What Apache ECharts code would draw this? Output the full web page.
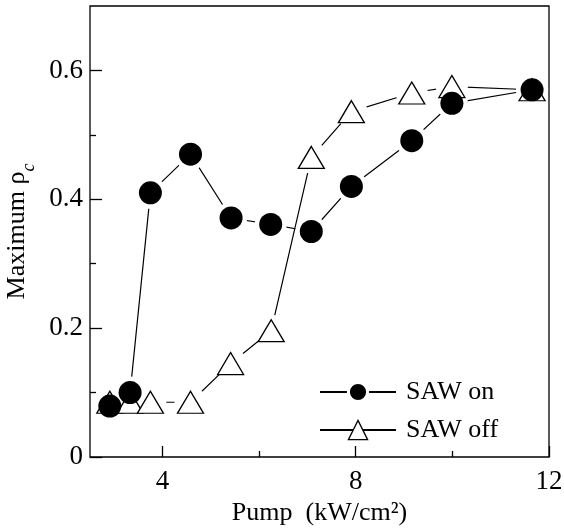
<!DOCTYPE html>
<html>
<head>
<meta charset="UTF-8">
<title>Maximum rho_c vs pump</title>
<script src="https://cdn.jsdelivr.net/npm/echarts@6/dist/echarts.min.js"></script>
<style>
    html, body { margin: 0; padding: 0; background: #fff; }
    #main { width: 564px; height: 529px; }
</style>
</head>
<body>
<div id="main"></div>
<script>
    // pump power (kW/cm2) and maximum rho_c
    var pumpOn = [2.91, 3.33, 3.75, 4.58, 5.42, 6.24, 7.08, 7.91, 9.16, 9.99, 11.65];
    var rhoOn = [0.079, 0.100, 0.410, 0.470, 0.371, 0.361, 0.350, 0.420, 0.491, 0.549, 0.570];
    var pumpOff = [2.91, 3.33, 3.75, 4.58, 5.41, 6.25, 7.08, 7.91, 9.16, 9.99, 11.65];
    var rhoOff = [0.085, 0.085, 0.085, 0.085, 0.145, 0.196, 0.465, 0.536, 0.565, 0.575, 0.570];

    var xTicks = [4, 8, 12];
    var xMinor = [6, 10];
    var yTicks = [0, 0.2, 0.4, 0.6];
    var yMinor = [0.1, 0.3, 0.5];

    var serif = 'Liberation Serif';

    function pairs(xs, ys) {
        return xs.map(function (x, i) { return [x, ys[i]]; });
    }
    var onData = pairs(pumpOn, rhoOn);
    var offData = pairs(pumpOff, rhoOff);

    var chart = echarts.init(document.getElementById('main'));
    var option = {
        animation: false,
        grid: {
            left: 90, right: 15, top: 6, bottom: 72,
            outerBoundsMode: 'none',
            show: true, borderColor: '#000', borderWidth: 1.3,
            backgroundColor: 'transparent'
        },
        legend: {
            data: [
                {name: 'SAW on', itemStyle: {color: '#000', borderColor: '#fff', borderWidth: 3, opacity: 1}},
                {name: 'SAW off', itemStyle: {color: '#fff', borderColor: '#000', borderWidth: 1.3, opacity: 1}}
            ],
            orient: 'vertical',
            left: 314, top: 374,
            itemWidth: 76, itemHeight: 24, itemGap: 12,
            selectedMode: false,
            textStyle: {fontFamily: serif, fontSize: 26, color: '#000', padding: [0, 0, 0, 5]}
        },
        xAxis: [
            {
                type: 'value', min: 2.5, max: 12,
                name: 'Pump  (kW/cm²)', nameLocation: 'middle', nameGap: 40,
                nameTextStyle: {fontFamily: serif, fontSize: 26, color: '#000'},
                axisLine: {show: false},
                axisTick: {inside: true, length: 11, customValues: xTicks, lineStyle: {color: '#000', width: 1.3}},
                axisLabel: {customValues: xTicks, margin: 11, fontFamily: serif, fontSize: 27, color: '#000'},
                splitLine: {show: false}
            },
            {
                type: 'value', min: 2.5, max: 12, position: 'bottom',
                axisLine: {show: false},
                axisTick: {inside: true, length: 6, customValues: xMinor, lineStyle: {color: '#000', width: 1.3}},
                axisLabel: {show: false},
                splitLine: {show: false}
            }
        ],
        yAxis: [
            {
                type: 'value', min: 0, max: 0.7,
                name: '{a|Maximum ρ}{b|c}', nameLocation: 'middle', nameGap: 46,
                nameTextStyle: {
                    rich: {
                        a: {fontFamily: serif, fontSize: 26, color: '#000', lineHeight: 26, verticalAlign: 'top'},
                        b: {fontFamily: serif, fontSize: 18, fontStyle: 'italic', color: '#000', lineHeight: 34, verticalAlign: 'bottom'}
                    }
                },
                axisLine: {show: false},
                axisTick: {inside: true, length: 12, customValues: yTicks, lineStyle: {color: '#000', width: 1.3}},
                axisLabel: {customValues: yTicks, margin: 7, fontFamily: serif, fontSize: 27, color: '#000'},
                splitLine: {show: false}
            },
            {
                type: 'value', min: 0, max: 0.7, position: 'left',
                axisLine: {show: false},
                axisTick: {inside: true, length: 6, customValues: yMinor, lineStyle: {color: '#000', width: 1.3}},
                axisLabel: {show: false},
                splitLine: {show: false}
            }
        ],
        series: [
            // connecting lines
            {
                name: 'SAW on', type: 'line', data: onData, z: 1,
                symbol: 'circle', showSymbol: false, silent: true,
                lineStyle: {color: '#000', width: 1.2},
                itemStyle: {color: '#000'}
            },
            {
                name: 'SAW off', type: 'line', data: offData, z: 1,
                symbol: 'triangle', showSymbol: false, silent: true,
                lineStyle: {color: '#000', width: 1.2},
                itemStyle: {color: '#fff', borderColor: '#000', borderWidth: 1.3}
            },
            // white gaps round the markers
            {
                name: 'halo off', type: 'scatter', data: offData, z: 2, silent: true,
                symbol: 'circle', symbolSize: 32, itemStyle: {color: '#fff', opacity: 1}
            },
            {
                name: 'halo on', type: 'scatter', data: onData, z: 2, silent: true,
                symbol: 'circle', symbolSize: 32, itemStyle: {color: '#fff', opacity: 1}
            },
            // markers
            {
                name: 'mk off', type: 'scatter', data: offData, z: 3, silent: true,
                symbol: 'triangle', symbolSize: [26, 22],
                itemStyle: {color: '#fff', borderColor: '#000', borderWidth: 1.3, opacity: 1}
            },
            {
                name: 'mk on', type: 'scatter', data: onData, z: 4, silent: true,
                symbol: 'circle', symbolSize: 23,
                itemStyle: {color: '#000', opacity: 1}
            }
        ]
    };
    chart.setOption(option);
</script>
</body>
</html>
